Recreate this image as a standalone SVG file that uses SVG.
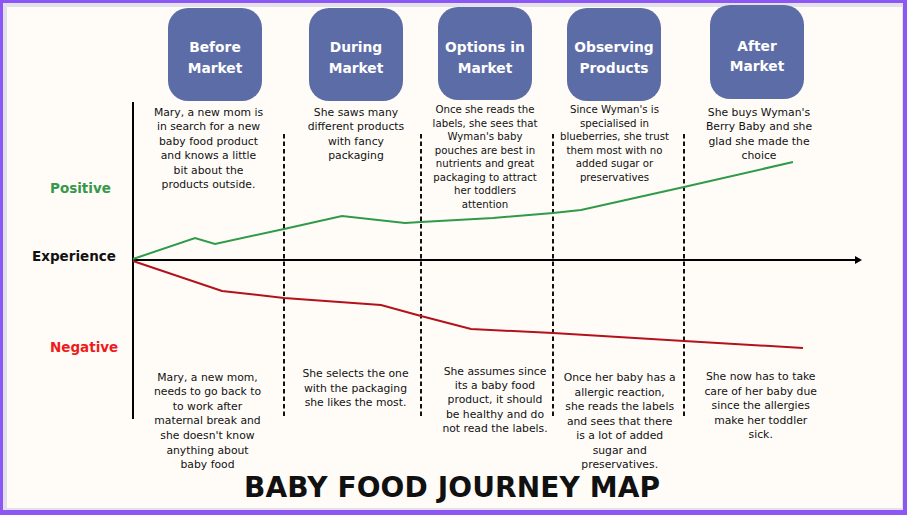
<svg xmlns="http://www.w3.org/2000/svg" width="907" height="515" viewBox="0 0 907 515">
<style>
.stage{fill:#5c6ca6}
.st{font-family:"DejaVu Sans",sans-serif;font-weight:700;font-size:13.8px;fill:#ffffff;text-anchor:middle}
.b{font-family:"DejaVu Sans",sans-serif;font-size:10.8px;fill:#111111;text-anchor:middle}
.s{font-size:10.2px}
.lab{font-family:"DejaVu Sans",sans-serif;font-weight:700;font-size:13.5px}
.dash{stroke:#111111;stroke-width:2;stroke-dasharray:4.5 3;fill:none}
.axis{stroke:#000000;stroke-width:2;fill:none}
</style>
<defs>
<marker id="arr" markerWidth="8" markerHeight="8" refX="1" refY="4" orient="auto" markerUnits="userSpaceOnUse">
<path d="M0,0 L7,4 L0,8 Z" fill="#000000"/>
</marker>
</defs>
<rect x="0" y="0" width="907" height="515" fill="#8c57f4"/>
<rect x="3" y="3" width="900" height="507" fill="#e3e1ec"/>
<rect x="7" y="7" width="895" height="501" fill="#fffcf8"/>

<g id="connectors">
<line class="axis" x1="133" y1="102" x2="133" y2="419"/>
<line class="axis" x1="133" y1="260" x2="856" y2="260" marker-end="url(#arr)"/>
<line class="dash" x1="284" y1="134" x2="284" y2="419"/>
<line class="dash" x1="421" y1="134" x2="421" y2="419"/>
<line class="dash" x1="553" y1="134" x2="553" y2="419"/>
<line class="dash" x1="684" y1="134" x2="684" y2="419"/>
<polyline fill="none" stroke="#2f9a48" stroke-width="2" points="133,259 195,238 215,244 284,229 342,216 405,223 421,222 493,218 553,213 581,210 684,187 793,162"/>
<polyline fill="none" stroke="#b3121b" stroke-width="2" points="133,261 222,291 284,298 381,305 421,316 471,329 553,333 684,341 803,348"/>
</g>

<g id="labels">
<text class="lab" x="50" y="193" fill="#36984a">Positive</text>
<text class="lab" x="32" y="261" fill="#111111">Experience</text>
<text class="lab" x="50" y="352" fill="#ee1c1c">Negative</text>
</g>

<g id="before-market">
<rect class="stage" x="168" y="8" width="94" height="93" rx="20"/>
<text class="st" x="215" y="52">Before</text>
<text class="st" x="215" y="73">Market</text>
<text class="b"><tspan x="208.5" y="116">Mary, a new mom is</tspan><tspan x="208.5" y="130.4">in search for a new</tspan><tspan x="208.5" y="144.8">baby food product</tspan><tspan x="208.5" y="159.2">and knows a little</tspan><tspan x="208.5" y="173.6">bit about the</tspan><tspan x="208.5" y="188">products outside.</tspan></text>
<text class="b"><tspan x="207.5" y="380.5">Mary, a new mom,</tspan><tspan x="207.5" y="395.1">needs to go back to</tspan><tspan x="207.5" y="409.7">to work after</tspan><tspan x="207.5" y="424.3">maternal break and</tspan><tspan x="207.5" y="438.9">she doesn't know</tspan><tspan x="207.5" y="453.5">anything about</tspan><tspan x="207.5" y="468">baby food</tspan></text>
</g>

<g id="during-market">
<rect class="stage" x="309" y="8" width="94" height="93" rx="20"/>
<text class="st" x="356" y="52">During</text>
<text class="st" x="356" y="73">Market</text>
<text class="b"><tspan x="356" y="116">She saws many</tspan><tspan x="356" y="130.4">different products</tspan><tspan x="356" y="144.8">with fancy</tspan><tspan x="356" y="159.2">packaging</tspan></text>
<text class="b"><tspan x="355.5" y="377">She selects the one</tspan><tspan x="355.5" y="391.5">with the packaging</tspan><tspan x="355.5" y="406">she likes the most.</tspan></text>
</g>

<g id="options-in-market">
<rect class="stage" x="438" y="7" width="94" height="93" rx="20"/>
<text class="st" x="485" y="52">Options in</text>
<text class="st" x="485" y="73">Market</text>
<text class="b s"><tspan x="485" y="113">Once she reads the</tspan><tspan x="485" y="126.5">labels, she sees that</tspan><tspan x="485" y="140">Wyman's baby</tspan><tspan x="485" y="153.5">pouches are best in</tspan><tspan x="485" y="167">nutrients and great</tspan><tspan x="485" y="180.5">packaging to attract</tspan><tspan x="485" y="194">her toddlers</tspan><tspan x="485" y="207.5">attention</tspan></text>
<text class="b"><tspan x="495" y="374.5">She assumes since</tspan><tspan x="495" y="388.9">its a baby food</tspan><tspan x="495" y="403.3">product, it should</tspan><tspan x="495" y="417.7">be healthy and do</tspan><tspan x="495" y="432.1">not read the labels.</tspan></text>
</g>

<g id="observing-products">
<rect class="stage" x="567" y="8" width="94" height="93" rx="20"/>
<text class="st" x="614" y="52">Observing</text>
<text class="st" x="614" y="73">Products</text>
<text class="b s"><tspan x="614.5" y="113">Since Wyman's is</tspan><tspan x="614.5" y="126.5">specialised in</tspan><tspan x="614.5" y="140">blueberries, she trust</tspan><tspan x="614.5" y="153.5">them most with no</tspan><tspan x="614.5" y="167">added sugar or</tspan><tspan x="614.5" y="180.5">preservatives</tspan></text>
<text class="b"><tspan x="619.7" y="381">Once her baby has a</tspan><tspan x="619.7" y="395.5">allergic reaction,</tspan><tspan x="619.7" y="410">she reads the labels</tspan><tspan x="619.7" y="424.5">and sees that there</tspan><tspan x="619.7" y="439">is a lot of added</tspan><tspan x="619.7" y="453.5">sugar and</tspan><tspan x="619.7" y="468">preservatives.</tspan></text>
</g>

<g id="after-market">
<rect class="stage" x="710" y="5" width="94" height="94" rx="20"/>
<text class="st" x="757" y="50.5">After</text>
<text class="st" x="757" y="71">Market</text>
<text class="b"><tspan x="759" y="116">She buys Wyman's</tspan><tspan x="759" y="130.4">Berry Baby and she</tspan><tspan x="759" y="144.8">glad she made the</tspan><tspan x="759" y="159.2">choice</tspan></text>
<text class="b"><tspan x="760.7" y="380">She now has to take</tspan><tspan x="760.7" y="394.5">care of her baby due</tspan><tspan x="760.7" y="409">since the allergies</tspan><tspan x="760.7" y="423.5">make her toddler</tspan><tspan x="760.7" y="438">sick.</tspan></text>
</g>

<g id="title">
<text x="452" y="497" font-family="'DejaVu Sans',sans-serif" font-weight="700" font-size="28" fill="#111111" text-anchor="middle" textLength="416" lengthAdjust="spacing">BABY FOOD JOURNEY MAP</text>
</g>
</svg>
